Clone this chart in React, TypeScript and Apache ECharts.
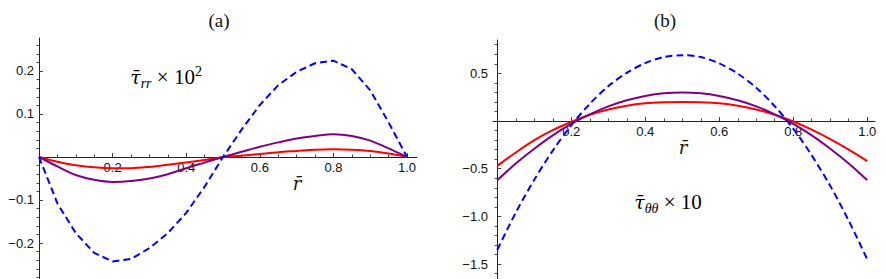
import React, { useEffect, useRef } from "react";
import * as echarts from "echarts";

// radial coordinate r̄ (sample points)
const rValues = [0, 0.05, 0.1, 0.15, 0.2, 0.25, 0.3, 0.35, 0.4, 0.45, 0.5, 0.55, 0.6, 0.65, 0.7, 0.75, 0.8, 0.85, 0.9, 0.95, 1.0];

// panel (a): τ̄_rr × 10²
const blueA = [0, -0.108, -0.177, -0.223, -0.243, -0.237, -0.212, -0.177, -0.13, -0.069, 0, 0.063, 0.121, 0.167, 0.198, 0.218, 0.224, 0.204, 0.155, 0.08, 0];
const purpleA = [0, -0.022, -0.042, -0.053, -0.058, -0.056, -0.05, -0.04, -0.026, -0.013, 0, 0.012, 0.024, 0.034, 0.043, 0.049, 0.053, 0.049, 0.038, 0.02, 0];
const redA = [0, -0.011, -0.019, -0.024, -0.026, -0.026, -0.023, -0.018, -0.013, -0.007, 0, 0.003, 0.007, 0.011, 0.014, 0.017, 0.018, 0.017, 0.014, 0.008, 0];

// panel (b): τ̄_θθ × 10
const blueB = [-1.35, -0.96, -0.615, -0.31, -0.045, 0.18, 0.365, 0.505, 0.607, 0.67, 0.69, 0.67, 0.604, 0.497, 0.348, 0.155, -0.08, -0.36, -0.68, -1.045, -1.45];
const purpleB = [-0.62, -0.445, -0.29, -0.15, -0.03, 0.07, 0.153, 0.217, 0.263, 0.291, 0.3, 0.291, 0.263, 0.217, 0.153, 0.07, -0.03, -0.15, -0.29, -0.445, -0.62];
const redB = [-0.47, -0.33, -0.2, -0.095, -0.01, 0.065, 0.12, 0.16, 0.185, 0.196, 0.2, 0.196, 0.185, 0.16, 0.12, 0.065, -0.005, -0.09, -0.19, -0.3, -0.42];

// ticks
const xMajorTicks = [0.2, 0.4, 0.6, 0.8, 1.0];
const xMinorTicks = [0.05, 0.1, 0.15, 0.25, 0.3, 0.35, 0.45, 0.5, 0.55, 0.65, 0.7, 0.75, 0.85, 0.9, 0.95];
const yMajorTicksA = [-0.2, -0.1, 0.1, 0.2];
const yMinorTicksA = [-0.28, -0.26, -0.24, -0.22, -0.18, -0.16, -0.14, -0.12, -0.08, -0.06, -0.04, -0.02, 0.02, 0.04, 0.06, 0.08, 0.12, 0.14, 0.16, 0.18, 0.22, 0.24, 0.26];
const yMajorTicksB = [-1.5, -1.0, -0.5, 0.5];
const yMinorTicksB = [-1.6, -1.4, -1.3, -1.2, -1.1, -0.9, -0.8, -0.7, -0.6, -0.4, -0.3, -0.2, -0.1, 0.1, 0.2, 0.3, 0.4, 0.6, 0.7, 0.8];

const AXIS_COLOR = "#222";
const TICK_COLOR = "#444";
const LABEL_COLOR = "#111";
const LABEL_FONT = "'Liberation Sans', Arial, sans-serif";
const SERIF = "'Liberation Serif', 'Times New Roman', serif";
const MARK_SERIF = "'DejaVu Serif', serif";

// geometry of the two panels
const A = { left: 39, top: 38, width: 378, height: 241, xMin: 0, xMax: 1.027, yMin: -0.2837, yMax: 0.2767 };
const B = { left: 493, top: 40, width: 382, height: 239, xMin: -0.0116, xMax: 1.021, yMin: -1.656, yMax: 0.849 };

const fmt = (v: number) => {
  const s = Math.abs(v).toFixed(1);
  return v < 0 ? "\u2212" + s : s;
};

// height of the part of a panel above y = 0
const zeroHeight = (p: typeof A) => (p.height * p.yMax) / (p.yMax - p.yMin);

function grids() {
  const g: any[] = [];
  for (const p of [A, B]) {
    g.push({ left: p.left, top: p.top, width: p.width, height: p.height, outerBoundsMode: "none" });
  }
  for (const p of [A, B]) {
    const h = zeroHeight(p);
    // grids whose bottom edge is the zero line: one for major x ticks + labels, one for minor ticks
    g.push({ left: p.left, top: p.top, width: p.width, height: h, outerBoundsMode: "none" });
    g.push({ left: p.left, top: p.top, width: p.width, height: h, outerBoundsMode: "none" });
  }
  return g;
}

function xAxisList() {
  const hiddenX = (grid: number, p: typeof A) => ({ type: "value", gridIndex: grid, min: p.xMin, max: p.xMax, show: false, axisLine: { onZero: false } });
  const majorX = (grid: number, p: typeof A) => ({
    type: "value", gridIndex: grid, min: p.xMin, max: p.xMax, position: "bottom",
    axisLine: { show: true, onZero: false, lineStyle: { color: AXIS_COLOR, width: 1 } },
    axisTick: { show: true, inside: true, length: 4, customValues: xMajorTicks, lineStyle: { color: TICK_COLOR } },
    axisLabel: { show: true, customValues: xMajorTicks, formatter: fmt, margin: 4, fontSize: 13, color: LABEL_COLOR, fontFamily: LABEL_FONT },
    splitLine: { show: false },
  });
  const minorX = (grid: number, p: typeof A) => ({
    type: "value", gridIndex: grid, min: p.xMin, max: p.xMax, position: "bottom",
    axisLine: { show: false, onZero: false },
    axisTick: { show: true, inside: true, length: 2.5, customValues: xMinorTicks, lineStyle: { color: TICK_COLOR } },
    axisLabel: { show: false },
    splitLine: { show: false },
  });
  return [hiddenX(0, A), hiddenX(1, B), majorX(2, A), minorX(3, A), majorX(4, B), minorX(5, B)];
}

function yAxisList() {
  const majorY = (grid: number, p: typeof A, xi: number, ticks: number[]) => ({
    type: "value", gridIndex: grid, min: p.yMin, max: p.yMax,
    axisLine: { show: true, onZero: true, onZeroAxisIndex: xi, lineStyle: { color: AXIS_COLOR, width: 1 } },
    axisTick: { show: true, inside: true, length: 4, customValues: ticks, lineStyle: { color: TICK_COLOR } },
    axisLabel: { show: true, customValues: ticks, formatter: fmt, margin: 5, fontSize: 13, color: LABEL_COLOR, fontFamily: LABEL_FONT },
    splitLine: { show: false },
  });
  const minorY = (grid: number, p: typeof A, xi: number, ticks: number[]) => ({
    type: "value", gridIndex: grid, min: p.yMin, max: p.yMax,
    axisLine: { show: false, onZero: true, onZeroAxisIndex: xi },
    axisTick: { show: true, inside: true, length: 2.5, customValues: ticks, lineStyle: { color: TICK_COLOR } },
    axisLabel: { show: false },
    splitLine: { show: false },
  });
  const hiddenY = (grid: number) => ({ type: "value", gridIndex: grid, min: 0, max: 1, show: false, axisLine: { onZero: false } });
  return [
    majorY(0, A, 0, yMajorTicksA), minorY(0, A, 0, yMinorTicksA),
    majorY(1, B, 1, yMajorTicksB), minorY(1, B, 1, yMinorTicksB),
    hiddenY(2), hiddenY(3), hiddenY(4), hiddenY(5),
  ];
}

function line(values: number[], color: string, xi: number, yi: number, dashed: boolean, smooth: number | boolean) {
  return {
    type: "line",
    xAxisIndex: xi,
    yAxisIndex: yi,
    data: rValues.map((r, i) => [r, values[i]]),
    showSymbol: false,
    symbol: "none",
    smooth,
    lineStyle: { color, width: 2, type: dashed ? [7, 4] : "solid" },
    z: dashed ? 4 : 3,
  };
}

const richMain = {
  t: { fontFamily: MARK_SERIF, fontStyle: "italic", fontSize: 19, lineHeight: 26, color: "#111" },
  s: { fontFamily: SERIF, fontStyle: "italic", fontSize: 14, lineHeight: 14, color: "#111", verticalAlign: "bottom" },
  m: { fontFamily: SERIF, fontSize: 21, lineHeight: 26, color: "#111" },
  p: { fontFamily: SERIF, fontSize: 14, lineHeight: 14, color: "#111", verticalAlign: "top" },
};

export default function App() {
  const ref = useRef<HTMLDivElement>(null);
  useEffect(() => {
    if (!ref.current) return;
    const chart = echarts.init(ref.current, undefined, { renderer: "svg" });
    chart.setOption({
      animation: false,
      backgroundColor: "#ffffff",
      grid: grids(),
      xAxis: xAxisList(),
      yAxis: yAxisList(),
      series: [
        line(redA, "#ff0000", 0, 0, false, 0.3),
        line(purpleA, "#800080", 0, 0, false, 0.3),
        line(blueA, "#0000ff", 0, 0, true, false),
        line(redB, "#ff0000", 1, 2, false, 0.3),
        line(purpleB, "#800080", 1, 2, false, 0.3),
        line(blueB, "#0000ff", 1, 2, true, 0.3),
      ],
      graphic: [
        { type: "text", x: 219, y: 20, style: { text: "(a)", font: `19px ${SERIF}`, fill: "#111", textAlign: "center", textVerticalAlign: "middle" } },
        { type: "text", x: 665, y: 20, style: { text: "(b)", font: `19px ${SERIF}`, fill: "#111", textAlign: "center", textVerticalAlign: "middle" } },
        { type: "text", x: 297, y: 183, style: { text: "r\u0304", font: `italic 18px ${MARK_SERIF}`, fill: "#111", textAlign: "center", textVerticalAlign: "middle" } },
        { type: "text", x: 683, y: 147, style: { text: "r\u0304", font: `italic 18px ${MARK_SERIF}`, fill: "#111", textAlign: "center", textVerticalAlign: "middle" } },
        { type: "text", x: 166, y: 77, style: { text: "{t|\u03c4\u0304}{s|rr}{m| \u00d7 10}{p|2}", rich: richMain, textAlign: "center", textVerticalAlign: "middle" } },
        { type: "text", x: 668, y: 202, style: { text: "{t|\u03c4\u0304}{s|\u03b8\u03b8}{m| \u00d7 10}", rich: richMain, textAlign: "center", textVerticalAlign: "middle" } },
      ],
    });
    return () => chart.dispose();
  }, []);
  return <div ref={ref} style={{ position: "absolute", left: 0, top: 0, width: 886, height: 279 }} />;
}
